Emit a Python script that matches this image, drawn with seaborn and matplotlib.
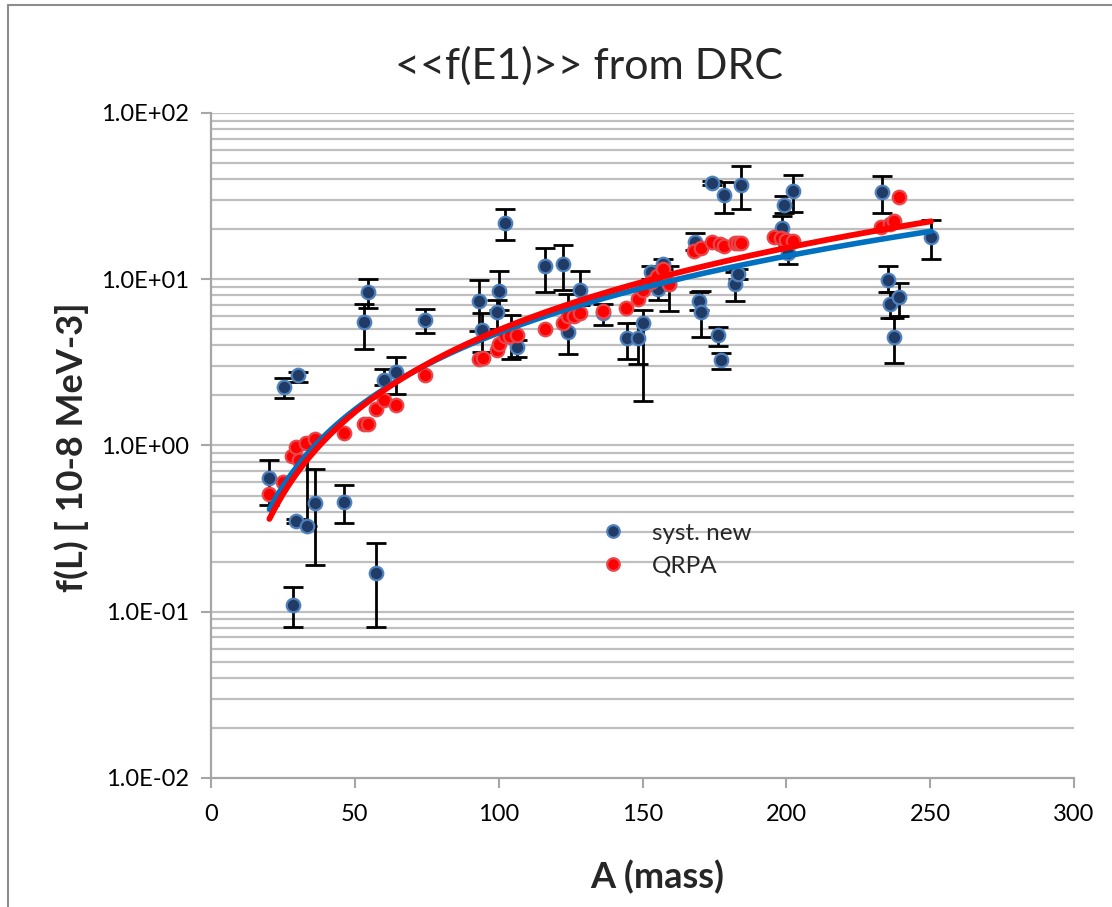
import numpy as np
import pandas as pd
import matplotlib
matplotlib.use("Agg")
import matplotlib.pyplot as plt
import seaborn as sns
from matplotlib.ticker import FixedLocator, FuncFormatter, NullFormatter
from matplotlib.lines import Line2D

# ---------------- data ----------------
blue_A = [20.3, 25.5, 30.4, 28.6, 29.5, 33.4, 36.3, 46.3, 57.4, 53.3, 54.5, 60.2, 64.4, 74.4,
          93.3, 94.1, 99.3, 100.2, 102.2, 104.3, 106.4, 116.2, 122.5, 124.2, 128.3, 136.4,
          144.5, 148.3, 150.0, 152.9, 155.3, 157.2, 159.3, 168.4, 169.5, 170.3, 174.1, 176.3,
          177.3, 178.2, 182.2, 183.3, 184.2, 198.4, 199.3, 200.4, 202.4, 233.3, 235.2, 236.1,
          237.3, 239.1, 250.3]
blue_f = [0.64, 2.24, 2.64, 0.11, 0.35, 0.33, 0.45, 0.46, 0.17, 5.5, 8.4, 2.47, 2.76, 5.72,
          7.38, 4.98, 6.33, 8.55, 21.8, 4.5, 3.9, 12.0, 12.4, 4.8, 8.59, 6.28,
          4.44, 4.44, 5.42, 11.1, 8.76, 12.4, 9.4, 16.8, 7.38, 6.33, 38.0, 4.59,
          3.26, 32.0, 9.3, 10.7, 37.1, 20.2, 28.1, 14.4, 33.8, 33.6, 9.96, 7.14,
          4.48, 7.84, 18.0]
blue_lo = [0.44, 1.92, 2.42, 0.081, 0.34, 0.33, 0.19, 0.34, 0.081, 3.81, 6.73, 2.30, 2.05, 4.72,
           4.87, 3.63, 5.0, 6.5, 17.3, 3.33, 3.4, 8.4, 8.67, 3.56, 7.0, 5.3,
           3.33, 3.11, 1.85, 10.0, 7.5, 11.5, 6.48, 15.0, 6.5, 4.5, 37.0, 3.95,
           2.89, 25.1, 7.38, 10.0, 26.3, 17.5, 25.0, 12.3, 25.3, 25.1, 8.4, 5.85,
           3.14, 6.05, 13.3]
blue_hi = [0.82, 2.53, 2.76, 0.14, 0.36, 0.95, 0.72, 0.58, 0.26, 7.14, 10.0, 2.89, 3.41, 6.64,
           9.96, 6.28, 7.5, 11.2, 26.3, 6.1, 4.3, 15.5, 16.0, 8.1, 11.2, 7.05,
           5.47, 5.47, 6.5, 12.0, 10.0, 13.2, 12.0, 19.0, 8.4, 8.46, 39.0, 5.17,
           3.6, 38.5, 11.1, 11.5, 47.8, 23.9, 31.6, 16.0, 42.6, 42.0, 12.0, 8.4,
           5.85, 9.43, 22.7]

red_A = [20.3, 25.1, 28.0, 29.5, 30.5, 33.1, 36.3, 46.3, 53.3, 54.5, 57.2, 60.2, 64.4, 74.4,
         93.3, 94.4, 99.3, 100.2, 102.2, 103.9, 106.4, 116.2, 122.5, 124.0, 126.3, 128.3,
         136.4, 144.2, 148.3, 150.2, 152.9, 155.0, 157.2, 159.3, 168.0, 170.3, 174.1, 176.9,
         178.2, 182.2, 183.3, 184.2, 195.8, 198.1, 199.9, 202.2, 232.9, 236.1, 237.3, 239.0]
red_f = [0.51, 0.60, 0.86, 0.98, 0.82, 1.04, 1.10, 1.19, 1.35, 1.35, 1.66, 1.87, 1.76, 2.67,
         3.33, 3.37, 3.74, 4.10, 4.54, 4.58, 4.65, 5.05, 5.47, 6.0, 6.04, 6.28,
         6.47, 6.73, 7.63, 8.59, 9.6, 10.4, 11.5, 9.3, 14.7, 15.4, 16.7, 16.3,
         15.8, 16.5, 16.5, 16.5, 17.9, 17.7, 17.3, 17.1, 20.7, 21.6, 22.3, 31.3]

series_names = ["syst. new", "QRPA"]
x_ticks = [0, 50, 100, 150, 200, 250, 300]
y_ticks = [1e-2, 1e-1, 1e0, 1e1, 1e2]
title_text = "<<f(E1)>> from DRC"
x_label = "A (mass)"
y_label = "f(L) [ 10-8 MeV-3]"

# ---------------- style ----------------
sns.set_theme(style="white")
plt.rcParams['font.family'] = ['Lato', 'DejaVu Sans']

BLUE_FILL = "#1f3b66"
BLUE_EDGE = "#4f81bd"
RED_FILL = "#ff0000"
RED_EDGE = "#e8464a"
BLUE_LINE = "#0070c0"
RED_LINE = "#ff0000"
GRID = "#bfbfbf"
AXIS = "#a6a6a6"

fig = plt.figure(figsize=(11.12, 9.07), dpi=100)
ax = fig.add_axes([0.18975, 0.14223, 0.7761, 0.7332])

blue_df = pd.DataFrame({"A": blue_A, "f": blue_f, "lo": blue_lo, "hi": blue_hi})
red_df = pd.DataFrame({"A": red_A, "f": red_f})

# error bars
yerr = [blue_df["f"] - blue_df["lo"], blue_df["hi"] - blue_df["f"]]
ax.errorbar(blue_df["A"], blue_df["f"], yerr=yerr, fmt="none", ecolor="black",
            elinewidth=2, capsize=7, capthick=2, zorder=3)

sns.scatterplot(data=blue_df, x="A", y="f", ax=ax, color=BLUE_FILL, edgecolor=BLUE_EDGE,
                linewidth=1.6, s=95, zorder=4, legend=False)
sns.scatterplot(data=red_df, x="A", y="f", ax=ax, color=RED_FILL, edgecolor=RED_EDGE,
                linewidth=1.6, s=95, zorder=5, legend=False)

# power-law trendlines (least squares in log-log space, as Excel does)
def power_fit(xs, ys):
    b, loga = np.polyfit(np.log(xs), np.log(ys), 1)
    return np.exp(loga), b

xx = np.linspace(min(blue_A), max(blue_A), 300)
ab, bb = power_fit(np.array(blue_A), np.array(blue_f))
ar, br = power_fit(np.array(red_A), np.array(red_f))
trend_b = pd.DataFrame({"A": xx, "f": ab * xx ** bb})
trend_r = pd.DataFrame({"A": xx, "f": ar * xx ** br})
sns.lineplot(data=trend_b, x="A", y="f", ax=ax, color=BLUE_LINE, linewidth=4, zorder=6)
sns.lineplot(data=trend_r, x="A", y="f", ax=ax, color=RED_LINE, linewidth=4.2, zorder=7)

# axes
ax.set_yscale("log")
ax.set_xlim(0, 300)
ax.set_ylim(1e-2, 1e2)
ax.xaxis.set_major_locator(FixedLocator(x_ticks))
ax.yaxis.set_major_locator(FixedLocator(y_ticks))
minors = [m * 10.0 ** e for e in range(-2, 2) for m in range(2, 10)]
ax.yaxis.set_minor_locator(FixedLocator(minors))
ax.yaxis.set_minor_formatter(NullFormatter())
ax.yaxis.set_major_formatter(FuncFormatter(lambda v, p: "{:.1E}".format(v)))
ax.xaxis.set_major_formatter(FuncFormatter(lambda v, p: f"{int(v)}"))

ax.grid(False)
for yv in y_ticks[1:] + minors:
    ax.axhline(yv, color=GRID, linewidth=1.6, zorder=1)

for s in ["top", "right"]:
    ax.spines[s].set_visible(False)
for s in ["left", "bottom"]:
    ax.spines[s].set_color(AXIS)
    ax.spines[s].set_linewidth(1.6)

ax.tick_params(axis="y", which="major", direction="out", length=7, width=1.5, color=AXIS,
               labelsize=17, pad=9, left=True)
ax.tick_params(axis="y", which="minor", length=0)
ax.tick_params(axis="x", which="major", direction="out", length=7, width=1.5, color=AXIS,
               labelsize=17, pad=12, bottom=True)
for lab in ax.get_xticklabels() + ax.get_yticklabels():
    lab.set_color("black")

ax.set_xlabel(x_label, fontsize=26, fontweight="bold", va="center")
ax.set_ylabel(y_label, fontsize=26, fontweight="bold", va="center")
ax.xaxis.set_label_coords((657 - 211) / 863, (778 - 877) / 665)
ax.yaxis.set_label_coords((72 - 211) / 863, (778 - 447) / 665)
fig.text(589 / 1112, 1 - 66 / 907, title_text, fontsize=31, ha="center", va="center")

# legend
handles = [
    Line2D([], [], linestyle="none", marker="o", markersize=9, markerfacecolor=BLUE_FILL,
           markeredgecolor=BLUE_EDGE, markeredgewidth=1.6),
    Line2D([], [], linestyle="none", marker="o", markersize=9, markerfacecolor=RED_FILL,
           markeredgecolor=RED_EDGE, markeredgewidth=1.6),
]
ax.legend(handles, series_names, loc="center left", bbox_to_anchor=(0.521, 0.394),
          bbox_transform=fig.transFigure, frameon=False, fontsize=17.5, handletextpad=1.1,
          labelspacing=0.5, handlelength=1.0)

# chart-area border (left and top edges)
fig.add_artist(Line2D([8 / 1112, 8 / 1112], [0, 1 - 5 / 907], transform=fig.transFigure,
                      color="#8c8c8c", linewidth=1.5))
fig.add_artist(Line2D([8 / 1112, 1], [1 - 5 / 907, 1 - 5 / 907], transform=fig.transFigure,
                      color="#8c8c8c", linewidth=1.5))

fig.savefig("out.png", dpi=100, facecolor="white")
